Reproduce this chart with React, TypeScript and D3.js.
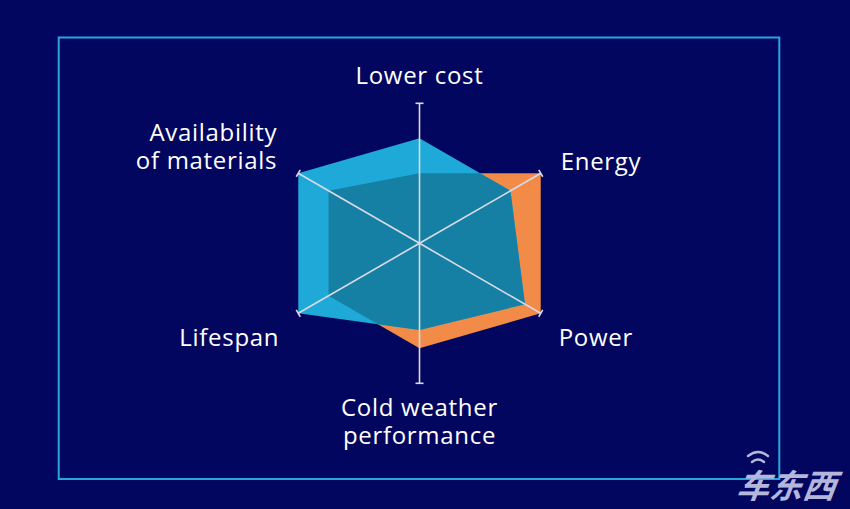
import React from 'react';
import * as d3 from 'd3';

const categories = ['Lower cost', 'Energy', 'Power', 'Cold weather performance', 'Lifespan', 'Availability of materials'];
const labelLines = [['Lower cost'], ['Energy'], ['Power'], ['Cold weather', 'performance'], ['Lifespan'], ['Availability', 'of materials']];
const blueValues = [0.75, 0.75, 0.87, 0.62, 1.0, 1.0];
const orangeValues = [0.5, 1.0, 1.0, 0.75, 0.75, 0.75];

const W = 850, H = 509;
const cx = 419.5, cy = 243.3, R = 140;

// label offsets from each axis end (x, y of first baseline, anchor)
const labelLayout: { dx: number; dy: number; anchor: string }[] = [
  { dx: 0, dy: -19, anchor: 'middle' },
  { dx: 20, dy: -3, anchor: 'start' },
  { dx: 18, dy: 33, anchor: 'start' },
  { dx: 0, dy: 33, anchor: 'middle' },
  { dx: -19, dy: 33, anchor: 'end' },
  { dx: -21, dy: -32, anchor: 'end' },
];

export default function App() {
  const r = d3.scaleLinear().domain([0, 1]).range([0, R]);
  const angle = d3.scaleLinear().domain([0, categories.length]).range([0, 2 * Math.PI]);
  const radial = d3.lineRadial<number>()
    .angle((_, i) => angle(i))
    .radius(d => r(d))
    .curve(d3.curveLinearClosed);

  const bluePath = radial(blueValues) || '';
  const orangePath = radial(orangeValues) || '';

  const font = "'Open Sans', 'DejaVu Sans', sans-serif";

  return (
    <svg width={W} height={H} style={{ position: 'absolute', left: 0, top: 0, display: 'block' }}>
      <defs>
        <clipPath id="blueClip">
          <path d={bluePath} transform={`translate(${cx},${cy})`} />
        </clipPath>
      </defs>
      <rect x={0} y={0} width={W} height={H} fill="#03065e" />
      <rect x={58.7} y={37.5} width={720.6} height={441.5} fill="none" stroke="#28a6da" strokeWidth={2} />

      <g transform={`translate(${cx},${cy})`}>
        <path d={orangePath} fill="#f28a48" />
        <path d={bluePath} fill="#1ea9d9" />
      </g>
      <g clipPath="url(#blueClip)">
        <path d={orangePath} transform={`translate(${cx},${cy})`} fill="#1580a4" />
      </g>

      <g transform={`translate(${cx},${cy})`}>
        {categories.map((c, i) => {
          const a = angle(i);
          const x = Math.sin(a) * r(1), y = -Math.cos(a) * r(1);
          const px = Math.cos(a) * 4, py = Math.sin(a) * 4;
          return (
            <g key={c} stroke="#d9dae8" strokeWidth={1.6}>
              <line x1={0} y1={0} x2={x} y2={y} />
              <line x1={x - px} y1={y - py} x2={x + px} y2={y + py} />
            </g>
          );
        })}
      </g>

      {categories.map((c, i) => {
        const a = angle(i);
        const x = cx + Math.sin(a) * r(1) + labelLayout[i].dx;
        const y = cy - Math.cos(a) * r(1) + labelLayout[i].dy;
        return (
          <text key={c} x={x} y={y} textAnchor={labelLayout[i].anchor} fill="#ffffff"
            fontFamily={font} fontSize={24} letterSpacing={0.7}>
            {labelLines[i].map((l, j) => (
              <tspan key={l} x={x} dy={j === 0 ? 0 : 28}>{l}</tspan>
            ))}
          </text>
        );
      })}

      <g fill="none" stroke="#b4b7db" strokeWidth={2.4} strokeLinecap="round">
        <path d="M748,456 Q758,448 768,456" />
        <path d="M752,462 Q758,457 764,462" />
      </g>
      <text x={786} y={498} textAnchor="middle" fill="#b4b7db" fontFamily="'Noto Sans CJK SC', sans-serif"
        fontSize={33} fontWeight={700} fontStyle="italic" transform="skewX(-8) translate(69,0)">车东西</text>
    </svg>
  );
}
